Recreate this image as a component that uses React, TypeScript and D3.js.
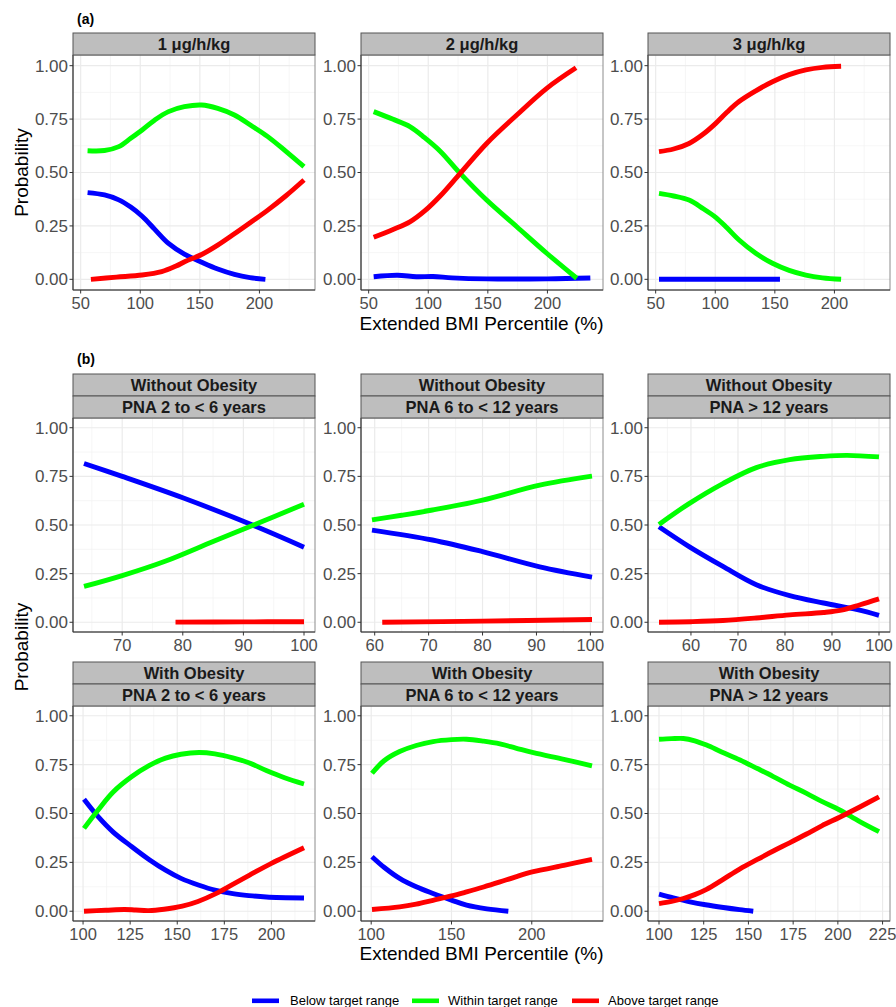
import React from 'react';
import * as d3 from 'd3';

type Pt = [number, number];

// ---- (a) dose panels: extended BMI percentile vs probability ----
const a1Below: Pt[] = [[55.8, 0.406], [70, 0.395], [82, 0.372], [92, 0.338], [101.6, 0.295], [112, 0.235], [123.7, 0.168], [137, 0.118], [151.5, 0.08], [165, 0.048], [179, 0.023], [192, 0.008], [205, 0.0]];
const a1Within: Pt[] = [[55.8, 0.602], [70, 0.603], [82, 0.621], [92, 0.66], [101.6, 0.699], [112, 0.745], [123.7, 0.785], [137, 0.808], [151.5, 0.816], [165, 0.8], [179, 0.769], [193, 0.72], [207, 0.668], [222, 0.6], [237.4, 0.527]];
const a1Above: Pt[] = [[58.6, 0], [80, 0.01], [101.6, 0.02], [118, 0.036], [130, 0.062], [137.6, 0.083], [151.5, 0.116], [165, 0.16], [179, 0.213], [193, 0.268], [207, 0.324], [222, 0.39], [237.4, 0.465]];

const a2Below: Pt[] = [[54.2, 0.012], [74, 0.019], [90, 0.012], [104, 0.013], [120, 0.007], [149, 0.002], [200, 0.002], [236, 0.006]];
const a2Within: Pt[] = [[54.2, 0.785], [70, 0.75], [84.9, 0.714], [97, 0.663], [110, 0.6], [126.8, 0.496], [149, 0.371], [174.3, 0.246], [199.4, 0.122], [224.6, 0.005]];
const a2Above: Pt[] = [[54.2, 0.197], [70, 0.232], [84.9, 0.27], [97, 0.32], [110, 0.39], [126.8, 0.496], [149, 0.636], [174.3, 0.769], [199.4, 0.894], [224, 0.99]];

const a3Below: Pt[] = [[52.8, 0], [154.3, 0]];
const a3Within: Pt[] = [[52.8, 0.402], [65, 0.39], [78, 0.371], [90, 0.33], [100.4, 0.29], [110, 0.24], [120, 0.184], [134, 0.122], [148, 0.075], [162, 0.042], [176, 0.02], [190, 0.007], [205.6, 0.0]];
const a3Above: Pt[] = [[52.8, 0.598], [65, 0.61], [78, 0.636], [90, 0.68], [100.4, 0.73], [110, 0.783], [120, 0.832], [134, 0.882], [148, 0.925], [162, 0.958], [176, 0.98], [190, 0.992], [205.6, 0.997]];

// ---- (b) obesity x age panels ----
const b1Below: Pt[] = [[63.7, 0.816], [70, 0.75], [80, 0.64], [91.5, 0.5], [100, 0.386]];
const b1Within: Pt[] = [[63.7, 0.184], [70, 0.24], [77.2, 0.315], [85, 0.415], [91.5, 0.497], [100, 0.607]];
const b1Above: Pt[] = [[78.8, 0.001], [90, 0.002], [100, 0.003]];

const b2Below: Pt[] = [[59.5, 0.474], [70.7, 0.423], [80, 0.363], [90.6, 0.285], [100.3, 0.232]];
const b2Within: Pt[] = [[59.5, 0.526], [65, 0.55], [70.7, 0.577], [80, 0.628], [90.6, 0.705], [100.3, 0.751]];
const b2Above: Pt[] = [[61.4, 0.0], [80, 0.006], [100.3, 0.014]];

const b3Below: Pt[] = [[53.2, 0.491], [59.6, 0.389], [66.8, 0.287], [73.9, 0.193], [81, 0.137], [88.2, 0.099], [95.4, 0.065], [100, 0.036]];
const b3Within: Pt[] = [[53.2, 0.503], [59.6, 0.61], [66.8, 0.713], [73.9, 0.795], [81, 0.836], [88.2, 0.853], [93.2, 0.858], [100, 0.85]];
const b3Above: Pt[] = [[53.2, 0], [60, 0.003], [66.8, 0.009], [73.9, 0.022], [81, 0.038], [88.2, 0.05], [92, 0.062], [96, 0.09], [100, 0.12]];

const b4Below: Pt[] = [[100.5, 0.573], [108, 0.484], [116, 0.405], [125.9, 0.33], [135, 0.265], [143.8, 0.21], [152, 0.168], [161.6, 0.133], [170, 0.108], [179.5, 0.09], [188, 0.08], [197.3, 0.073], [217.3, 0.068]];
const b4Within: Pt[] = [[100.5, 0.424], [108, 0.518], [116, 0.61], [125.9, 0.689], [135, 0.745], [143.8, 0.783], [152, 0.803], [161.6, 0.812], [170, 0.805], [179.5, 0.785], [188, 0.76], [197.3, 0.72], [207, 0.683], [217.3, 0.651]];
const b4Above: Pt[] = [[100.5, 0], [112, 0.005], [122, 0.009], [128, 0.006], [134.8, 0.003], [143, 0.01], [152.7, 0.026], [161, 0.05], [170.5, 0.09], [179, 0.135], [188.4, 0.185], [200, 0.245], [217.3, 0.325]];

const b5Below: Pt[] = [[100.5, 0.279], [108, 0.225], [117.7, 0.168], [128, 0.125], [138.5, 0.091], [150, 0.057], [159.4, 0.031], [172, 0.012], [185.4, 0.0]];
const b5Within: Pt[] = [[100.5, 0.706], [108, 0.77], [117.7, 0.817], [128, 0.848], [138.5, 0.868], [150, 0.878], [159.4, 0.88], [170, 0.87], [180.2, 0.856], [190, 0.835], [201, 0.811], [220, 0.777], [237.5, 0.744]];
const b5Above: Pt[] = [[100.5, 0.009], [117.7, 0.022], [128, 0.036], [138.5, 0.056], [150, 0.078], [159.4, 0.099], [170, 0.124], [180.2, 0.15], [190, 0.176], [201, 0.202], [220, 0.235], [237.5, 0.265]];

const b6Below: Pt[] = [[100, 0.087], [108, 0.068], [117.3, 0.048], [126, 0.033], [136, 0.019], [145, 0.008], [152.7, 0.0]];
const b6Within: Pt[] = [[100, 0.88], [107, 0.883], [113.6, 0.884], [120, 0.872], [126.6, 0.85], [135, 0.815], [145.3, 0.774], [155, 0.73], [163.9, 0.689], [173, 0.645], [182.5, 0.603], [191, 0.562], [201, 0.518], [212, 0.46], [223, 0.407]];
const b6Above: Pt[] = [[100, 0.039], [107, 0.05], [113.6, 0.065], [120, 0.085], [126.6, 0.112], [135, 0.158], [145.3, 0.217], [155, 0.265], [163.9, 0.308], [173, 0.35], [182.5, 0.395], [191, 0.437], [201, 0.481], [212, 0.532], [223, 0.585]];

const seriesNames = ['Below target range', 'Within target range', 'Above target range'];
const seriesColors = ['#0000FF', '#00FF00', '#FF0000'];

const doseLabels = ['1 μg/h/kg', '2 μg/h/kg', '3 μg/h/kg'];
const obesityLabels = ['Without Obesity', 'With Obesity'];
const ageLabels = ['PNA 2 to < 6 years', 'PNA 6 to < 12 years', 'PNA > 12 years'];

const yTicks = [0, 0.25, 0.5, 0.75, 1];
const aTicks = [50, 100, 150, 200];
const bTicks = [
  [70, 80, 90, 100],
  [60, 70, 80, 90, 100],
  [60, 70, 80, 90, 100],
  [100, 125, 150, 175, 200],
  [100, 150, 200],
  [100, 125, 150, 175, 200, 225],
];

const FONT = "'Liberation Sans', Arial, Helvetica, sans-serif";
const colX = [73, 361, 648];
const PW = 242;
const STRIP = 22;

const padDomain = (sets: Pt[][]): [number, number] => {
  const ext = d3.extent(sets.flat(), d => d[0]) as [number, number];
  const pad = (ext[1] - ext[0]) * 0.05;
  return [ext[0] - pad, ext[1] + pad];
};

interface PanelProps {
  x: number;
  top: number; // top of plot area
  h: number;
  strips: string[];
  series: Pt[][];
  xDomain: [number, number];
  xTicks: number[];
}

const Panel = ({ x, top, h, strips, series, xDomain, xTicks }: PanelProps) => {
  const xs = d3.scaleLinear().domain(xDomain).range([x, x + PW]);
  const ys = d3.scaleLinear().domain([-0.05, 1.05]).range([top + h, top]);
  const step = xTicks[1] - xTicks[0];
  const xMinor = d3.range(xTicks[0] - step / 2, xDomain[1], step).filter(v => v > xDomain[0]);
  const yMinor = [0.125, 0.375, 0.625, 0.875];
  const line = d3.line<Pt>().x(d => xs(d[0])).y(d => ys(d[1])).curve(d3.curveCatmullRom.alpha(0.5));
  const bottom = top + h;
  const stripTop = top - STRIP * strips.length;

  return (
    <g>
      <rect x={x} y={top} width={PW} height={h} fill="#fff" />
      {xMinor.map(v => <line key={'xm' + v} x1={xs(v)} x2={xs(v)} y1={top} y2={bottom} stroke="#F2F2F2" strokeWidth={0.7} />)}
      {yMinor.map(v => <line key={'ym' + v} x1={x} x2={x + PW} y1={ys(v)} y2={ys(v)} stroke="#F2F2F2" strokeWidth={0.7} />)}
      {xTicks.map(v => <line key={'xg' + v} x1={xs(v)} x2={xs(v)} y1={top} y2={bottom} stroke="#EBEBEB" strokeWidth={1.2} />)}
      {yTicks.map(v => <line key={'yg' + v} x1={x} x2={x + PW} y1={ys(v)} y2={ys(v)} stroke="#EBEBEB" strokeWidth={1.2} />)}
      {series.map((s, i) => (
        <path key={'s' + i} d={line(s) || ''} fill="none" stroke={seriesColors[i]} strokeWidth={4.9} />
      ))}
      <rect x={x} y={top} width={PW} height={h} fill="none" stroke="#8C8C8C" strokeWidth={1} />
      <line x1={x} x2={x} y1={top} y2={bottom} stroke="#333" strokeWidth={1.1} />
      <line x1={x} x2={x + PW} y1={bottom} y2={bottom} stroke="#333" strokeWidth={1.1} />
      {yTicks.map(v => (
        <g key={'yt' + v}>
          <line x1={x - 3.5} x2={x} y1={ys(v)} y2={ys(v)} stroke="#333" strokeWidth={1} />
          <text x={x - 5} y={ys(v)} dy="0.35em" textAnchor="end" fontSize={17} fill="#4D4D4D" fontFamily={FONT}>
            {d3.format('.2f')(v)}
          </text>
        </g>
      ))}
      {xTicks.map(v => (
        <g key={'xt' + v}>
          <line x1={xs(v)} x2={xs(v)} y1={bottom} y2={bottom + 3.5} stroke="#333" strokeWidth={1} />
          <text x={xs(v)} y={bottom + 18.5} textAnchor="middle" fontSize={16.5} fill="#4D4D4D" fontFamily={FONT}>
            {v}
          </text>
        </g>
      ))}
      {strips.map((s, i) => (
        <g key={'st' + i}>
          <rect x={x} y={stripTop + i * STRIP} width={PW} height={STRIP} fill="#BEBEBE" stroke="#555" strokeWidth={1} />
          <text x={x + PW / 2} y={stripTop + i * STRIP + 16.5} textAnchor="middle" fontSize={16.5} fontWeight="bold" fill="#1A1A1A" fontFamily={FONT}>
            {s}
          </text>
        </g>
      ))}
    </g>
  );
};

export default function App() {
  const aSeries = [
    [a1Below, a1Within, a1Above],
    [a2Below, a2Within, a2Above],
    [a3Below, a3Within, a3Above],
  ];
  const bSeries = [
    [b1Below, b1Within, b1Above],
    [b2Below, b2Within, b2Above],
    [b3Below, b3Within, b3Above],
    [b4Below, b4Within, b4Above],
    [b5Below, b5Within, b5Above],
    [b6Below, b6Within, b6Above],
  ];
  const aDomain = padDomain(aSeries.flat());
  const bTops = [418, 706];
  const midX = (colX[0] + colX[2] + PW) / 2;
  const legendItems = [
    { x: 252, tx: 290 },
    { x: 412, tx: 448 },
    { x: 572, tx: 608 },
  ];

  return (
    <svg width={896} height={1007} style={{ position: 'absolute', left: 0, top: 0, background: '#fff' }} fontFamily={FONT}>
      <rect width={896} height={1007} fill="#fff" />
      <text x={77} y={24} fontSize={14} fontWeight="bold" fill="#000">(a)</text>
      {aSeries.map((s, i) => (
        <Panel key={'a' + i} x={colX[i]} top={55} h={235} strips={[doseLabels[i]]} series={s} xDomain={aDomain} xTicks={aTicks} />
      ))}
      <text transform={`translate(28,${172.5}) rotate(-90)`} textAnchor="middle" fontSize={19} fill="#000">Probability</text>
      <text x={midX} y={330} textAnchor="middle" fontSize={19} fill="#000">Extended BMI Percentile (%)</text>

      <text x={77} y={364} fontSize={14} fontWeight="bold" fill="#000">(b)</text>
      {bSeries.map((s, i) => {
        const r = Math.floor(i / 3);
        const c = i % 3;
        return (
          <Panel
            key={'b' + i}
            x={colX[c]}
            top={bTops[r]}
            h={r === 0 ? 214 : 215}
            strips={[obesityLabels[r], ageLabels[c]]}
            series={s}
            xDomain={padDomain(s)}
            xTicks={bTicks[i]}
          />
        );
      })}
      <text transform={`translate(28,${647}) rotate(-90)`} textAnchor="middle" fontSize={19} fill="#000">Probability</text>
      <text x={midX} y={960} textAnchor="middle" fontSize={19} fill="#000">Extended BMI Percentile (%)</text>

      {seriesNames.map((n, i) => (
        <g key={'lg' + i}>
          <rect x={legendItems[i].x} y={998.5} width={27} height={4.6} fill={seriesColors[i]} />
          <text x={legendItems[i].tx} y={1005} fontSize={13} fill="#000">{n}</text>
        </g>
      ))}
    </svg>
  );
}
